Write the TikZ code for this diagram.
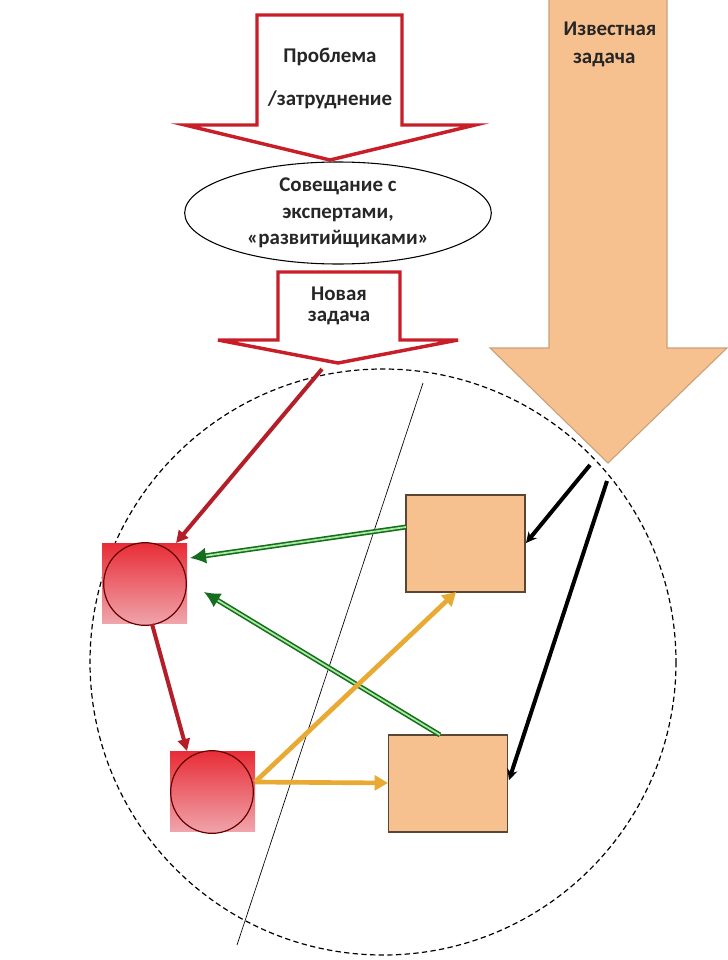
\documentclass[tikz,border=0pt]{standalone}
\usepackage{fontspec}
\setmainfont{Carlito}
\usetikzlibrary{arrows.meta,shapes.geometric}
\definecolor{redline}{RGB}{200,30,40}
\definecolor{darkred}{RGB}{180,30,40}
\definecolor{peach}{RGB}{246,193,143}
\definecolor{peachline}{RGB}{200,160,120}
\definecolor{boxline}{RGB}{90,70,50}
\definecolor{redtop}{RGB}{232,45,55}
\definecolor{redbot}{RGB}{240,165,172}
\definecolor{dgreen}{RGB}{20,110,30}
\definecolor{lgreen}{RGB}{170,235,160}
\definecolor{orangearr}{RGB}{232,170,50}
\tikzset{
  redarrow/.style={draw=redline, line width=2.6pt, fill=white, line join=miter},
  peacharrow/.style={draw=peachline, line width=0.8pt, fill=peach},
  lbl/.style={font=\bfseries\fontsize{15.7}{20}\selectfont, text=black!85, align=center},
  pbox/.style={draw=boxline, line width=1pt, fill=peach, minimum width=89.25pt, minimum height=72.75pt, inner sep=0},
  rsq/.style={top color=redtop, bottom color=redbot, minimum width=63.75pt, minimum height=60pt, inner sep=0},
  rcirc/.style={draw=black!60!red, line width=0.9pt, top color=redtop, bottom color=redbot, circle, minimum size=62pt, inner sep=0},
  redconn/.style={draw=darkred, line width=3pt, -{Triangle[length=9pt,width=9pt]}},
  greenconn/.style={draw=dgreen, double=lgreen, double distance=1.3pt, line width=1.2pt, -{Latex[length=12pt,width=12pt]}},
  orangeconn/.style={draw=orangearr, line width=3.5pt, -{Triangle[length=10pt,width=11pt]}},
  blackconn/.style={draw=black, line width=3pt, -{Stealth[length=8pt,width=8pt]}},
}
\begin{document}
\begin{tikzpicture}[x=0.75pt,y=-0.75pt]
\useasboundingbox (0,0) rectangle (728,960);
\fill[white] (0,0) rectangle (728,960);

% dashed big ellipse
\draw[line width=0.9pt, dash pattern=on 4pt off 2.5pt] (383,662) ellipse [x radius=293, y radius=293];
% thin divider line
\coordinate (dtop) at (423,383);
\coordinate (dbot) at (237,945);
\draw[line width=0.5pt] (dtop) -- (dbot);

% top red arrow
\draw[redarrow] (257,15) -- (402,15) -- (402,125) -- (475,125) -- (330,160) -- (185,125) -- (257,125) -- cycle;
\node[lbl] (p1) at (330,57) {Проблема};
\node[lbl] (p2) at (330,100) {/затруднение};

% ellipse
\node[draw, ellipse, line width=0.8pt, minimum width=230pt, minimum height=76.5pt, inner sep=0, lbl, fill=white] (meet) at (338,213) {Совещание с\\экспертами,\\«развитийщиками»};

% second red arrow
\draw[redarrow] (278,272) -- (400,272) -- (400,340) -- (458,340) -- (338,363) -- (218,340) -- (278,340) -- cycle;
\node[lbl, align=center, font=\bfseries\fontsize{15.7}{16}\selectfont] (nz) at (339,306) {Новая\\задача};

% peach arrow
\draw[peacharrow] (549,-2) -- (667,-2) -- (667,348) -- (727,348) -- (608,463) -- (490,348) -- (549,348) -- cycle;
\node[lbl, align=left, anchor=north west, font=\bfseries\fontsize{15.7}{21}\selectfont] (iz) at (559,17) {Известная\\\hspace*{7pt}задача};

% boxes
\node[pbox] (b1) at (465.5,543.5) {};
\node[pbox] (b2) at (448,783.5) {};
\node[rsq] (s1) at (144.5,583.5) {};
\node[rcirc] (c1) at (145,584) {};
\node[rsq] (s2) at (212.5,791.5) {};
\node[rcirc] (c2) at (212,792) {};

% connectors
\coordinate (rstart) at (322,369);
\coordinate (s1top) at (176,543);
\draw[redconn] (rstart) -- (s1top);
\coordinate (s1bot) at (152,624);
\coordinate (s2top) at (187,751);
\draw[redconn] (s1bot) -- (s2top);

\coordinate (g1a) at (406,527);
\coordinate (g1b) at (190,558);
\draw[greenconn] (g1a) -- (g1b);
\coordinate (g2a) at (440,735);
\coordinate (g2b) at (204,592);
\draw[greenconn] (g2a) -- (g2b);

\coordinate (o0) at (255,782);
\coordinate (o1) at (456,592);
\coordinate (o2) at (388,783);
\draw[orangeconn] (o0) -- (o1);
\draw[orangeconn] (o0) -- (o2);

\coordinate (k1a) at (590,465);
\coordinate (k1b) at (526,543);
\coordinate (k2a) at (607,481);
\coordinate (k2b) at (509,780);
\draw[blackconn] (k1a) -- (k1b);
\draw[blackconn] (k2a) -- (k2b);
\end{tikzpicture}
\end{document}
